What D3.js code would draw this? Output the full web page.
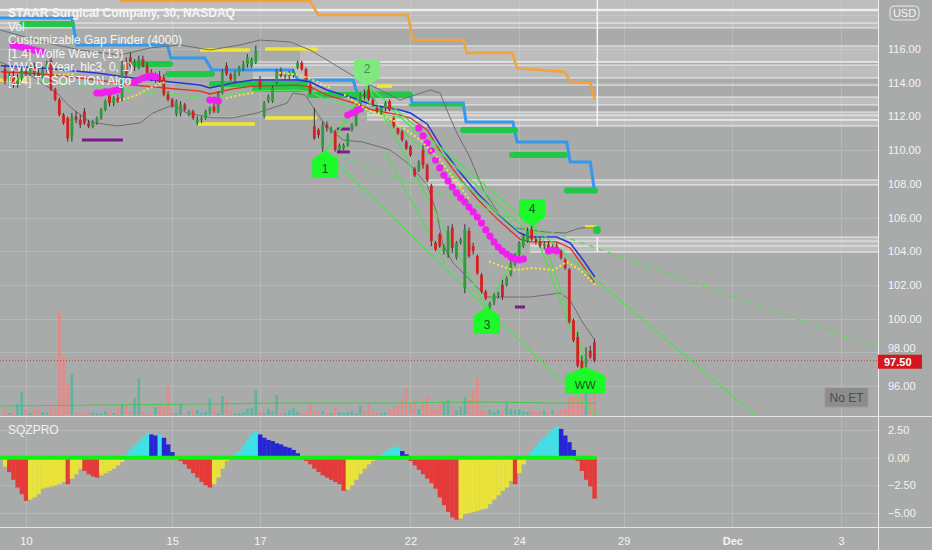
<!DOCTYPE html>
<html><head><meta charset="utf-8">
<script src="https://cdn.jsdelivr.net/npm/d3@7"></script>
<style>
html,body{margin:0;padding:0;background:#a9abaa;}
svg{display:block;font-family:"Liberation Sans",Arial,sans-serif;}
</style></head><body>
<svg id="c" width="932" height="550"></svg>
<script>
// ---------------- DATA ----------------
// candles [open, high, low, close], 30-minute bars
const candles = [
[114.8,115.0,113.9,114.1],[114.1,114.6,113.8,114.4],[114.4,114.7,113.7,113.9],[113.9,114.5,113.7,114.3],[114.3,114.9,114.1,114.7],
[114.7,115.0,114.3,114.5],[114.5,115.1,114.3,114.9],[114.9,115.2,114.4,114.6],[114.6,114.8,114.1,114.3],[114.3,115.0,114.2,114.8],
[114.8,115.3,114.6,115.1],[115.3,115.5,113.5,113.6],[113.6,113.7,112.9,113.0],[113.0,113.1,112.0,112.1],[112.1,112.2,111.5,111.6],
[111.9,112.0,110.5,110.7],[110.8,112.2,110.5,112.0],[112.0,112.3,111.6,111.8],[111.8,112.1,111.3,111.5],[112.3,112.5,111.5,111.6],
[111.6,111.8,111.3,111.4],[111.4,111.8,111.3,111.7],[111.7,112.0,111.5,111.9],[111.9,112.5,111.8,112.4],[112.4,113.0,112.3,112.9],
[113.3,113.6,112.6,112.8],[112.8,113.2,112.6,113.1],[113.1,113.3,112.8,112.9],[113.1,115.3,112.9,115.0],[115.2,115.5,114.4,114.5],
[115.5,115.8,114.9,115.0],[115.0,115.4,114.7,115.2],[114.9,115.6,114.8,115.4],[115.4,115.6,114.9,115.0],[115.0,115.2,114.5,114.6],
[114.6,114.8,114.1,114.2],[114.2,114.6,114.0,114.4],[114.4,114.7,114.0,114.1],[114.3,114.5,113.2,113.3],[113.3,113.5,112.9,113.0],
[113.0,113.1,112.5,112.6],[112.1,113.0,112.0,112.9],[112.2,112.9,112.0,112.7],[112.7,112.8,112.3,112.4],[112.1,112.4,112.0,112.3],
[112.3,112.4,111.8,111.9],[111.6,112.0,111.5,111.8],[111.8,112.0,111.6,111.9],[111.9,112.4,111.8,112.3],[112.3,112.6,112.1,112.5],
[112.6,112.8,112.2,112.3],[112.3,113.5,112.2,113.4],[113.4,114.8,113.3,114.6],[115.0,115.2,114.4,114.5],[114.5,114.6,114.1,114.2],
[114.2,114.7,114.0,114.6],[114.6,115.0,114.4,114.9],[114.9,115.3,114.7,115.1],[115.1,115.7,114.9,115.5],[115.0,115.5,114.9,115.4],
[115.2,116.2,115.1,115.9],[114.2,114.4,113.6,113.8],[112.0,112.9,111.9,112.8],[112.9,113.3,112.8,113.2],[112.9,113.8,112.8,113.7],
[114.0,114.8,113.9,114.7],[114.7,114.9,114.3,114.4],[114.4,114.6,114.2,114.5],[114.4,114.7,114.2,114.6],[114.5,114.8,114.3,114.7],
[114.9,115.3,114.8,115.2],[115.2,115.3,114.7,114.8],[114.8,114.9,114.1,114.2],[113.9,114.0,113.3,113.4],[111.4,112.5,110.6,110.7],
[111.2,111.3,110.7,110.9],[110.1,111.7,109.9,111.5],[111.5,111.7,111.1,111.3],[111.1,111.4,111.0,111.3],[111.1,111.2,109.9,110.0],
[110.0,110.4,109.9,110.3],[110.1,110.4,110.0,110.3],[110.3,111.0,110.2,110.9],[111.2,111.6,111.1,111.5],[111.5,112.6,111.4,112.5],
[112.7,113.4,112.6,113.3],[113.3,113.6,113.0,113.2],[113.6,113.9,112.9,113.0],[113.0,113.1,112.6,112.7],[112.5,112.6,112.2,112.3],
[112.3,112.6,112.1,112.5],[112.5,112.9,112.3,112.8],[112.9,113.0,112.3,112.4],[111.9,112.0,111.3,111.4],[111.3,111.3,110.9,111.0],
[111.1,111.2,110.5,110.6],[110.5,110.6,110.0,110.1],[110.2,110.3,109.6,109.7],[108.9,109.0,108.4,108.5],[108.8,109.4,108.7,109.3],
[110.0,110.3,108.9,109.1],[109.1,109.2,108.1,108.2],[107.9,108.0,104.3,104.6],[104.5,104.6,104.0,104.1],[105.0,105.1,104.2,104.3],
[104.0,104.4,103.8,104.3],[103.8,105.5,103.6,105.2],[105.4,105.6,103.9,104.2],[103.6,104.6,103.5,104.5],[104.5,104.8,104.4,104.7],
[101.8,105.6,101.5,105.3],[105.2,105.4,103.6,103.7],[104.3,104.5,103.8,104.0],[103.7,103.8,102.6,102.7],[102.6,102.7,101.5,101.6],
[101.6,101.7,101.1,101.2],[100.7,101.0,100.5,100.9],[101.0,101.5,100.8,101.4],[101.4,101.6,101.2,101.5],[102.0,102.3,101.1,101.3],
[102.0,102.5,101.9,102.4],[102.6,103.5,102.5,103.3],[103.2,103.9,103.1,103.8],[103.8,104.6,103.7,104.5],[104.3,105.0,104.2,104.9],
[104.6,105.4,104.5,105.2],[105.3,105.7,104.6,104.7],[104.7,104.9,104.4,104.6],[104.6,104.8,104.2,104.3],[104.3,104.6,104.1,104.4],
[104.4,104.6,104.1,104.2],[104.0,104.4,103.9,104.3],[104.3,104.5,103.9,104.0],[104.0,104.1,103.5,103.6],[103.5,103.6,102.9,103.0],
[102.9,103.0,99.7,99.8],[99.9,100.0,98.6,98.7],[98.9,99.2,97.1,97.2],[97.5,97.8,96.8,97.0],[97.3,98.3,96.9,97.6],
[98.1,98.4,97.6,97.7],[98.6,98.8,97.4,97.5]
];
const volume = [
6,2,3,11,23,5,2,6,10,3, 2,9,6,103,57,32,41,3,2,4, 3,3,2,2,4,3,2,7,11,10,
4,17,37,4,2,2,8,11,8,30, 2,2,11,2,4,5,5,2,3,17, 9,2,19,17,4,2,2,3,6,7,
25,3,2,6,4,20,3,2,5,7, 3,2,3,11,5,3,4,3,2,8, 3,2,3,4,2,9,5,12,4,3,
2,3,6,8,10,17,27,12,15,6, 12,19,8,6,11,12,15,8,5,8, 18,15,25,38,5,3,5,3,5,5,
12,6,5,6,4,3,5,3,3,4, 3,5,3,5,8,18,17,18,22,23, 17,30
];
const volumeMA = [[-1,9],[24,10],[48,11],[70,12],[94,12],[113,13],[133,12],[141.5,12]];
const sqz = [
-0.8,-1.3,-2.0,-2.7,-3.3,-3.9,-3.8,-3.6,-3.3,-2.8, -2.7,-2.6,-2.5,-2.4,-2.2,-2.4,-1.9,-1.5,-1.0,-1.2,
-1.5,-1.7,-1.8,-1.6,-1.4,-1.2,-1.0,-0.7,-0.4,0.3, 0.7,1.1,1.5,1.9,2.2,2.1,2.0,2.1,1.8,1.2,
0.5,0.05,-0.3,-0.6,-1.0,-1.4,-1.8,-2.2,-2.5,-2.7, -2.4,-1.8,-1.0,-0.3,-0.1,0.3,0.6,1.1,1.6,2.1,
2.3,2.1,1.8,1.6,1.5,1.3,1.2,1.0,0.9,0.7, 0.4,0.05,-0.3,-0.6,-1.0,-1.3,-1.6,-1.8,-2.0,-2.2,
-2.4,-3.0,-2.9,-2.5,-2.0,-1.5,-1.0,-0.6,-0.3,-0.1, 0.3,0.6,0.8,0.9,1.0,0.6,0.3,-0.3,-0.7,-1.1,
-1.5,-1.9,-2.3,-2.8,-3.6,-4.3,-4.9,-5.4,-5.6,-5.5, -5.1,-5.0,-4.9,-4.8,-4.7,-4.6,-4.2,-3.8,-3.4,-3.0,
-2.7,-2.1,-2.4,-1.4,-0.6,0.1,0.6,1.0,1.4,1.8, 2.2,2.6,2.8,2.6,2.0,1.4,0.7,-0.3,-1.2,-2.0,
-2.6,-3.7
];
const priceTicks = [96,98,100,102,104,106,108,110,112,114,116];
const gridPrices = [96,98,100,102,104,106,108,110,112,114,116,118];
const sqzTicks = [2.5,0,-2.5,-5];
const timeTicks = [{i:5,label:"10"},{i:40,label:"15"},{i:61,label:"17"},{i:97,label:"22"},{i:123,label:"24"},{i:148,label:"29"},{i:174,label:"Dec"},{i:200,label:"3"}];
const lastPrice = 97.50;

// VWAP and bands  [bar, price]
const vwapBlue = [[-1,115.0],[9,114.87],[22,114.58],[30.6,114.28],[46.7,113.86],[49,113.69],[54.5,113.98],[59.3,114.16],[70,114.16],[73,114.04],[77,113.57],[83.3,113.09],[88,112.68],[94.5,112.38],[97,112.2],[101,111.55],[104.8,110.01],[109,108.64],[113,107.45],[117.7,106.27],[121.5,105.44],[123.2,105.08],[125.6,104.84],[132,104.84],[135.2,104.49],[138.3,103.48],[141.1,102.47]];
const vwapRed = [[-1,114.65],[9,114.52],[22,114.16],[30.6,113.86],[46.7,113.5],[49,113.33],[54.5,113.63],[59.3,113.8],[70,113.86],[73,113.75],[77,113.27],[83.3,112.8],[88,112.38],[94.5,112.08],[97,111.9],[101,111.2],[104.8,109.65],[109,108.28],[113,107.1],[117.7,105.92],[121.5,105.08],[123.2,104.72],[125.6,104.55],[132,104.55],[135.2,104.19],[138.3,103.12],[141.1,102.1]];
const vwapLime = [[-1,114.28],[9,114.16],[22,113.8],[30.6,113.5],[46.7,113.15],[49,113.03],[54.5,113.33],[59.3,113.5],[70,113.57],[73,113.45],[77,112.97],[83.3,112.56],[88,112.2],[94.5,111.97]];
const bandUpper = [[-1.2,117.13],[9.1,116.42],[17.9,115.94],[27.5,115.64],[34.7,116.06],[41.9,116.24],[49,115.94],[56.2,116.24],[61,116.53],[68.2,116.42],[73,115.94],[77.8,115.23],[84.9,114.16],[92.1,113.27],[94.5,112.97],[98.1,113.27],[101.7,113.57],[104.1,113.39],[105.7,112.38],[108.1,111.01],[111.2,109.59],[114.4,107.63],[118.4,106.15],[122,105.38],[129.2,105.14],[134,105.08],[137.6,105.38],[141.1,105.38]];
const bandLower = [[-1.2,115.23],[6,114.46],[12.4,113.39],[15.6,112.56],[20.3,111.67],[26.8,111.43],[32.3,111.61],[35.4,112.2],[40.2,112.68],[43.5,112.2],[49.8,111.91],[54.5,111.91],[60.3,112.2],[67.5,112.79],[68.9,113.39],[71.8,113.27],[76.6,111.49],[80.9,110.6],[85.6,110.48],[92.1,110.01],[96.9,109.12],[101,107.93],[103.3,106.27],[104.8,104.37],[107.2,103.3],[113.6,101.7],[115.3,101.28],[125.6,101.28],[132.8,101.52],[135.2,101.1],[138.1,99.8],[141.1,98.73]];

// gap finder
const gapBoxes = [
 {start:-1.5, top:119.3, bottom:118.31},
 {start:-1.5, top:118.31, bottom:117.25},
 {start:70.6, top:116.18, bottom:115.23},
 {start:59.3, top:115.05, bottom:114.28},
 {start:86.6, top:113.15, bottom:112.68},
 {start:86.6, top:112.26, bottom:111.79},
 {start:92.6, top:111.79, bottom:111.43},
 {start:100.5, top:108.23, bottom:107.93},
 {start:125.6, top:104.84, bottom:103.95}
];
const gapLines = [{start:-1.5,price:117.54},{start:59.3,price:113.86},{start:59.3,price:115.23},{start:86.6,price:112.08},{start:125.6,price:104.6},{start:125.6,price:104.31}];

// step lines
const orangeStep = [[27.5,118.85],[73,118.85],[74.9,118.02],[96.4,118.02],[97.6,116.53],[109.6,116.53],[110.5,115.76],[121.3,115.76],[122.5,114.87],[134,114.64],[135.2,114.04],[140,113.98],[141.1,112.97]];
const blueStep = [[-1.2,117.84],[16,117.84],[17.2,116.24],[38.8,116.24],[39.7,115.47],[47.8,115.47],[49.5,114.75],[68.7,114.75],[70.1,114.16],[83.3,114.16],[84.2,113.39],[96.9,113.39],[97.4,112.79],[109.6,112.79],[110.3,111.67],[121.5,111.67],[122.5,110.48],[134.4,110.48],[135.2,109.3],[140,109.3],[141.1,107.45]];

// horizontal levels [startBar, endBar, price]
const greenLevels = [[4.1,16,117.48],[31.1,39.5,115.11],[39,49.5,114.52],[49.5,71.8,113.92],[59.8,73,113.63],[73,96.9,113.27],[109.6,122,111.19],[121.3,134,109.71],[134.4,141.1,107.6]];
const greenThin = [[96.9,109.6,112.68]];
const yellowLevels = [[-1.2,4.8,114.16],[46.7,58.6,115.94],[62.2,74.9,116.0],[46.2,59.8,111.55],[62.2,74.6,111.91],[89,92.6,113.8],[138.8,141.6,105.44]];
const purpleLevels = [[18.4,28.2,110.6],[79.4,82.5,111.25],[79.4,82.5,109.89],[122,124.4,100.69]];

// TCSOPTION dots [bar, price]
const magentaDots = [
[2,116.24],[3,116.18],[4,116.12],[5,116.06],[6,116.0],[7,115.94],[8,115.88],[9,115.82],
[22,113.39],[23,113.39],[24,113.45],[25,113.45],[26,113.51],[27,113.57],
[31,114.04],[32,114.16],[33,114.28],[34,114.34],[35,114.4],[36,114.34],
[49,112.97],[50,112.97],[51,112.91],
[82,112.08],[83,112.2],[84,112.32],[85,112.44],
[99,111.31],[100,110.84],[101,110.42],[102,109.95],[103,109.41],[104,108.94],[105,108.52],[106,108.17],[107,107.81],[108,107.45],[109,107.16],[110,106.92],[111,106.62],[112,106.33],[113,106.03],[114,105.67],[115,105.26],[116,104.9],[117,104.55],[118,104.25],[119,104.01],[120,103.83],[121,103.66],[122,103.54],[123,103.48],[124,103.54],
[130,104.01],[131,104.07],[132,104.01]
];
const yellowDotted = [
 [[12,114.46],[16.7,114.52]],
 [[27.5,112.97],[31.1,113.21],[34.7,113.69],[38.3,114.04]],
 [[53.1,113.09],[56.2,113.27],[59.3,113.39]],
 [[65.8,114.58],[70.6,114.46],[75.4,113.98],[77.8,113.69]],
 [[81.3,113.27],[86.6,112.38],[92.8,111.79],[99.3,110.6],[104.1,109.41],[108.9,107.81],[111.2,107.04]],
 [[116,103.36],[121.5,102.88],[126.3,103.0],[131.1,102.88],[134.4,103.36],[137.6,102.88],[141.1,102.05]]
];

// Wolfe wave
const waveLabels = [
 {label:"1", i:76.6, price:109.89, dir:"up"},
 {label:"2", i:86.6, price:113.86, dir:"down", faded:true},
 {label:"3", i:115.3, price:100.63, dir:"up"},
 {label:"4", i:126.1, price:105.56, dir:"down"},
 {label:"WW", i:138.8, price:97.07, dir:"up"}
];
const wolfeLines = [
 [[76.6,109.89],[86.6,113.86]],
 [[86.6,113.86],[115.3,100.63]],
 [[115.3,100.63],[126.1,105.56]],
 [[126.1,105.56],[138.8,97.07]],
 [[76.6,109.89],[141.6,94.28]],
 [[86.6,113.86],[179.4,94.28]],
 [[76.6,109.89],[83.8,112.55]],
 [[92.1,112.5],[125.6,105.08]],
 [[84.9,113.27],[123.2,105.14]],
 [[128.5,104.84],[139.3,97.3]],
 [[90.9,109.89],[105.3,103.3]]
];
const wolfeDashed = [[76.6,109.89],[208.9,98.26]];

const legend = ["STAAR Surgical Company, 30, NASDAQ","Vol","Customizable Gap Finder (4000)","[1.4] Wolfe Wave (13)","VWAP (Year, hlc3, 0, 1)","[2.4] TCSOPTION Algo"];

// ---------------- DRAW ----------------
const BG="#a9abaa", PR=878, MB=416;
const svg = d3.select("#c");
const x = d3.scaleLinear().domain([0,141]).range([5,594.4]);
const y = d3.scaleLinear().domain([96,116]).range([386,49]);
const yv = d3.scaleLinear().domain([0,100]).range([415,315]);
const ys = d3.scaleLinear().domain([-5,2.5]).range([513,430]);
const bw = x(1)-x(0);

const defs = svg.append("defs");
defs.append("clipPath").attr("id","mc").append("rect").attr("x",0).attr("y",0).attr("width",PR).attr("height",MB);
defs.append("clipPath").attr("id","sc").append("rect").attr("x",0).attr("y",417).attr("width",PR).attr("height",110);

svg.append("rect").attr("width",932).attr("height",550).attr("fill",BG);

// grid
const grid = svg.append("g").attr("stroke","#b7b9b8").attr("stroke-width",1);
grid.selectAll("line.h").data(gridPrices).join("line").attr("class","h")
  .attr("x1",0).attr("x2",PR).attr("y1",d=>Math.round(y(d))+0.5).attr("y2",d=>Math.round(y(d))+0.5);
grid.selectAll("line.s").data(sqzTicks).join("line").attr("class","s")
  .attr("x1",0).attr("x2",PR).attr("y1",d=>Math.round(ys(d))+0.5).attr("y2",d=>Math.round(ys(d))+0.5);
grid.selectAll("line.v").data(timeTicks).join("line").attr("class","v")
  .attr("x1",d=>Math.round(x(d.i))+0.5).attr("x2",d=>Math.round(x(d.i))+0.5).attr("y1",0).attr("y2",527);

const main = svg.append("g").attr("clip-path","url(#mc)");

// gap boxes
main.selectAll("rect.gap").data(gapBoxes).join("rect").attr("class","gap")
  .attr("x",d=>x(d.start)).attr("width",d=>PR-x(d.start))
  .attr("y",d=>y(d.top)).attr("height",d=>y(d.bottom)-y(d.top))
  .attr("fill","rgba(255,255,255,0.22)");
gapBoxes.forEach((d,k)=>{
  [d.top,d.bottom].forEach(p=>{
    main.append("line").attr("x1",x(d.start)).attr("x2",PR).attr("y1",y(p)).attr("y2",y(p))
      .attr("stroke","#f4f4f4").attr("stroke-width",(k===0&&p===d.bottom)?2.5:1).attr("opacity",0.9);
  });
});
main.selectAll("line.gl").data(gapLines).join("line").attr("class","gl")
  .attr("x1",d=>x(d.start)).attr("x2",PR).attr("y1",d=>y(d.price)).attr("y2",d=>y(d.price))
  .attr("stroke","#f4f4f4").attr("stroke-width",1).attr("opacity",0.9);
main.append("line").attr("x1",x(141.7)).attr("x2",x(141.7)).attr("y1",0).attr("y2",y(111.43)).attr("stroke","#f4f4f4").attr("stroke-width",1.5);
main.append("line").attr("x1",x(141.7)).attr("x2",x(141.7)).attr("y1",y(104.84)).attr("y2",y(103.95)).attr("stroke","#f4f4f4").attr("stroke-width",1.5);

// volume
main.selectAll("rect.vol").data(volume).join("rect").attr("class","vol")
  .attr("x",(d,i)=>x(i)-1.3).attr("width",2.6)
  .attr("y",d=>yv(d)).attr("height",d=>yv(0)-yv(d))
  .attr("fill",(d,i)=>candles[i][3]>=candles[i][0]?"#5fb3a3":"#e48a88");
const line = d3.line().x(d=>x(d[0])).y(d=>y(d[1]));
main.append("path").attr("d",d3.line().x(d=>x(d[0])).y(d=>yv(d[1]))(volumeMA))
  .attr("fill","none").attr("stroke","#4fc24f").attr("stroke-width",1.2);

// last price dotted line
main.append("line").attr("x1",0).attr("x2",PR).attr("y1",y(lastPrice)).attr("y2",y(lastPrice))
  .attr("stroke","#cc3a3a").attr("stroke-width",1).attr("stroke-dasharray","1,2");

// step lines
main.append("path").attr("d",line(orangeStep)).attr("fill","none").attr("stroke","#f2a33a").attr("stroke-width",2.5);
main.append("path").attr("d",line(blueStep)).attr("fill","none").attr("stroke","#3399ee").attr("stroke-width",3);

// level bars
function levels(data, color, w, cap){
  main.append("g").selectAll("line").data(data).join("line")
    .attr("x1",d=>x(d[0])).attr("x2",d=>x(d[1])).attr("y1",d=>y(d[2])).attr("y2",d=>y(d[2]))
    .attr("stroke",color).attr("stroke-width",w).attr("stroke-linecap",cap);
}
levels(greenLevels,"#22c74a",6,"round");
levels(greenThin,"#22c74a",3,"round");
levels(yellowLevels,"#f0e635",3.5,"butt");
levels(purpleLevels,"#7d1a8c",3,"butt");

// bands
[bandUpper,bandLower].forEach(b=>main.append("path").attr("d",line(b)).attr("fill","none").attr("stroke","#6e6e6e").attr("stroke-width",1));
main.append("path").attr("d",line(vwapLime)).attr("fill","none").attr("stroke","#5fe35f").attr("stroke-width",1);
main.append("path").attr("d",line(vwapRed)).attr("fill","none").attr("stroke","#e0301e").attr("stroke-width",1.3);
main.append("path").attr("d",line(vwapBlue)).attr("fill","none").attr("stroke","#2a33d6").attr("stroke-width",1.5);

// wolfe lines
main.append("g").selectAll("path").data(wolfeLines).join("path").attr("d",d=>line(d))
  .attr("fill","none").attr("stroke","#4fe04f").attr("stroke-width",1.3);
main.append("path").attr("d",line(wolfeDashed)).attr("fill","none").attr("stroke","#4fe04f").attr("stroke-width",1.3).attr("stroke-dasharray","5,5");

// candles
const cg = main.append("g");
cg.selectAll("line").data(candles).join("line")
  .attr("x1",(d,i)=>x(i)).attr("x2",(d,i)=>x(i)).attr("y1",d=>y(d[1])).attr("y2",d=>y(d[2]))
  .attr("stroke","#333").attr("stroke-width",1);
cg.selectAll("rect").data(candles).join("rect")
  .attr("x",(d,i)=>x(i)-1.4).attr("width",2.8)
  .attr("y",d=>y(Math.max(d[0],d[3]))).attr("height",d=>Math.max(1,Math.abs(y(d[0])-y(d[3]))))
  .attr("fill",d=>d[3]>=d[0]?"#2f9b3e":"#d42020");

// magenta dots
main.append("g").selectAll("circle").data(magentaDots).join("circle")
  .attr("cx",d=>x(d[0])).attr("cy",d=>y(d[1])).attr("r",3.6).attr("fill","#f01ff0");
// yellow dotted
main.append("g").selectAll("path").data(yellowDotted).join("path").attr("d",d=>line(d))
  .attr("fill","none").attr("stroke","#f2e63a").attr("stroke-width",2.2).attr("stroke-linecap","round").attr("stroke-dasharray","0.1,4.2");
main.append("circle").attr("cx",x(141.6)).attr("cy",y(105.26)).attr("r",4).attr("fill","#22c74a");

// wave labels (pentagons)
const wg = main.append("g");
waveLabels.forEach(d=>{
  const cx=x(d.i), ty=y(d.price), hw = d.label.length>1?19:12;
  let pts, ty2;
  if(d.dir==="up"){ pts=[[cx,ty],[cx+hw,ty+8],[cx+hw,ty+25],[cx-hw,ty+25],[cx-hw,ty+8]]; ty2=ty+21; }
  else { pts=[[cx,ty],[cx+hw,ty-8],[cx+hw,ty-25],[cx-hw,ty-25],[cx-hw,ty-8]]; ty2=ty-12; }
  wg.append("path").attr("d","M"+pts.map(p=>p.join(",")).join("L")+"Z")
    .attr("fill",d.faded?"#7fe97f":"#1dfa2a").attr("stroke",d.faded?"#7fe97f":"#1dfa2a").attr("stroke-linejoin","round").attr("stroke-width",2);
  wg.append("text").attr("x",cx).attr("y",ty2).attr("text-anchor","middle")
    .attr("font-size",d.label.length>1?11:12).attr("fill",d.faded?"#4c8a4c":"#1f4f1f").text(d.label);
});

// ---------- indicator pane ----------
const sub = svg.append("g").attr("clip-path","url(#sc)");
sub.selectAll("rect").data(sqz).join("rect")
  .attr("x",(d,i)=>x(i)-bw/2).attr("width",bw+0.3)
  .attr("y",d=>d>=0?ys(d):ys(0)).attr("height",d=>Math.abs(ys(d)-ys(0)))
  .attr("fill",(d,i)=>{const p=i>0?sqz[i-1]:d; return d>=0?(d>=p?"#3fe0e6":"#2626d4"):(d<p?"#e53a3a":"#e8e23a");});
sub.append("line").attr("x1",0).attr("x2",x(141)+2).attr("y1",ys(0)).attr("y2",ys(0)).attr("stroke","#0ff20f").attr("stroke-width",4);

// separators
svg.append("line").attr("x1",0).attr("x2",932).attr("y1",416.5).attr("y2",416.5).attr("stroke","#e6e6e6");
svg.append("line").attr("x1",0).attr("x2",932).attr("y1",527.5).attr("y2",527.5).attr("stroke","#e6e6e6");
svg.append("line").attr("x1",PR+0.5).attr("x2",PR+0.5).attr("y1",0).attr("y2",550).attr("stroke","#f0f0f0");

// axes
function styleAxis(g){ g.select(".domain").remove(); g.selectAll("text").attr("fill","#f4f4f4").attr("font-size",11).attr("font-family","Liberation Sans, Arial, sans-serif"); }
const pa = svg.append("g").attr("transform",`translate(${PR},0)`)
  .call(d3.axisRight(y).tickValues(priceTicks).tickFormat(d3.format(".2f")).tickSize(0).tickPadding(10));
styleAxis(pa);
// the 98.00 label sits just above the last-price badge
pa.selectAll(".tick").filter(d=>d===98).select("text").attr("y",-4);
const sa = svg.append("g").attr("transform",`translate(${PR},0)`)
  .call(d3.axisRight(ys).tickValues(sqzTicks).tickFormat(d3.format(".2f")).tickSize(0).tickPadding(10));
styleAxis(sa);
const ta = svg.append("g").attr("transform","translate(0,528)")
  .call(d3.axisBottom(x).tickValues(timeTicks.map(d=>d.i)).tickFormat((d,k)=>timeTicks[k].label).tickSize(0).tickPadding(9));
styleAxis(ta);
ta.selectAll("text").attr("font-weight",(d,k)=>timeTicks[k].label==="Dec"?"bold":"normal");

// USD badge
svg.append("rect").attr("x",890).attr("y",6).attr("width",29).attr("height",14).attr("rx",4)
  .attr("fill",BG).attr("stroke","#e8e8e8");
svg.append("text").attr("x",904.5).attr("y",17).attr("text-anchor","middle").attr("font-size",11).attr("fill","#f4f4f4").text("USD");

// last price label
svg.append("rect").attr("x",PR).attr("y",y(lastPrice)-6).attr("width",44).attr("height",14).attr("fill","#d3171c");
svg.append("text").attr("x",884).attr("y",y(lastPrice)+5).attr("font-size",11).attr("font-weight","bold").attr("fill","#fff").text(d3.format(".2f")(lastPrice));

// No ET badge
svg.append("rect").attr("x",825).attr("y",388).attr("width",43).attr("height",19).attr("fill","#8c8c8c").attr("stroke","#999");
svg.append("text").attr("x",846.5).attr("y",402).attr("text-anchor","middle").attr("font-size",12).attr("fill","#4d4d4d").text("No ET");

// legends
svg.append("g").selectAll("text").data(legend).join("text")
  .attr("x",8).attr("y",(d,k)=>17+k*13.6).attr("font-size",12)
  .attr("font-weight",(d,k)=>k===0?"bold":"normal").attr("fill","#f5f5f5").text(d=>d);
svg.append("text").attr("x",8).attr("y",434).attr("font-size",12).attr("fill","#f0f0f0").text("SQZPRO");
</script>
</body></html>
